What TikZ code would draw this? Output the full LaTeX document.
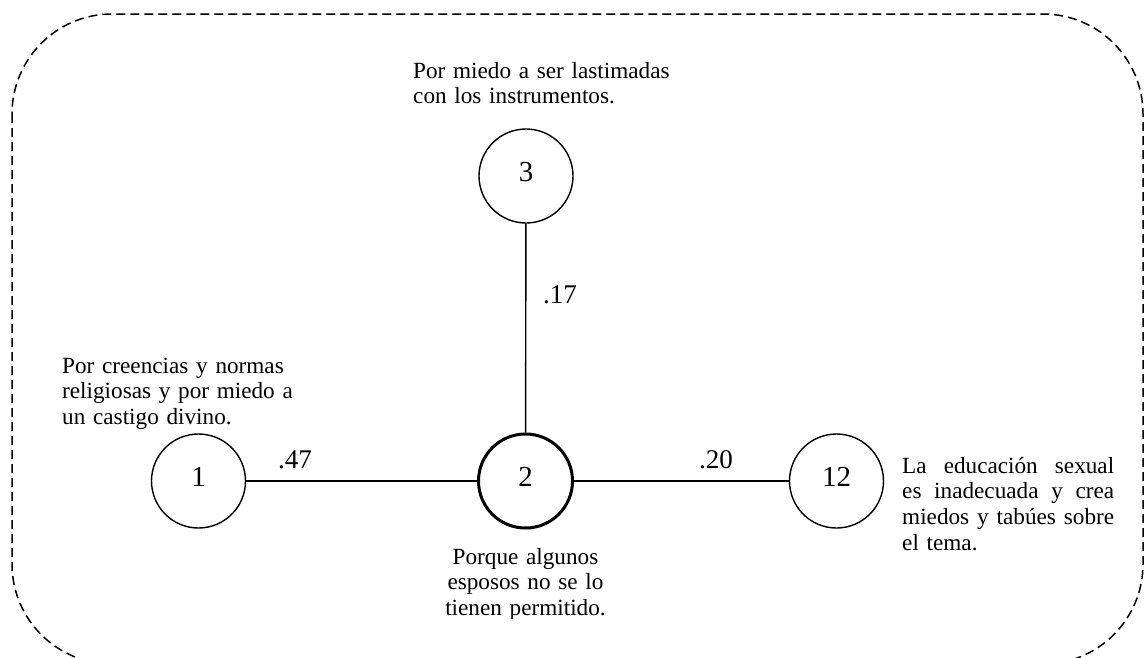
\documentclass[tikz,border=0pt]{standalone}
\usepackage{fontspec}
\setmainfont{Liberation Serif}
\begin{document}
\begin{tikzpicture}[x=1pt,y=-1pt,
  circ/.style={circle,draw,line width=1.4pt,minimum size=94pt,inner sep=0pt,text height=19.6pt,text depth=9pt,font=\fontsize{29}{32}\selectfont},
  circthick/.style={circ,line width=3pt},
  lbl/.style={anchor=base west,inner sep=0pt,font=\fontsize{27}{30}\selectfont},
  txt/.style={anchor=base west,inner sep=0pt,font=\fontsize{23.2}{25.7}\selectfont},
  conn/.style={line width=1.4pt},
  frame/.style={line width=1.5pt,dash pattern=on 9pt off 5pt,rounded corners=100pt}]
\useasboundingbox (0,0) rectangle (1144,657);
\draw[frame] (12,14) rectangle (1143,664);
\node[circ] (n3) at (526,176) {3};
\node[circ] (n1) at (198.5,481) {1};
\node[circthick] (n2) at (525.5,481) {2};
\node[circ] (n12) at (836.5,481) {12};
\draw[conn] (n1) -- (n2);
\draw[conn] (n2) -- (n12);
\draw[conn] (n3) -- (n2);
\node[lbl] (l47) at (278,468) {.47};
\node[lbl] (l20) at (699,468) {.20};
\node[lbl] (l17) at (543,303) {.17};
\node[txt,text width=280pt,align=left] (t3) at (413,78) {Por miedo a ser lastimadas\\con los instrumentos.};
\node[txt,text width=260pt,align=left] (t1) at (62,373) {Por creencias y normas\\religiosas y por miedo a\\un castigo divino.};
\node[txt,text width=212pt,align=left] (t12) at (902,473) {\makebox[212pt][l]{La\hfill educación\hfill sexual}\\\makebox[212pt][l]{es\hfill inadecuada\hfill y\hfill crea}\\\makebox[212pt][l]{miedos\hfill y\hfill tabúes\hfill sobre}\\el tema.};
\begin{scope}
\clip (380,530) rectangle (680,618);
\node[txt,text width=240pt,align=center,anchor=base] (t2) at (525.5,564) {Porque algunos\\esposos no se lo\\tienen permitido.};
\end{scope}
\end{tikzpicture}
\end{document}
